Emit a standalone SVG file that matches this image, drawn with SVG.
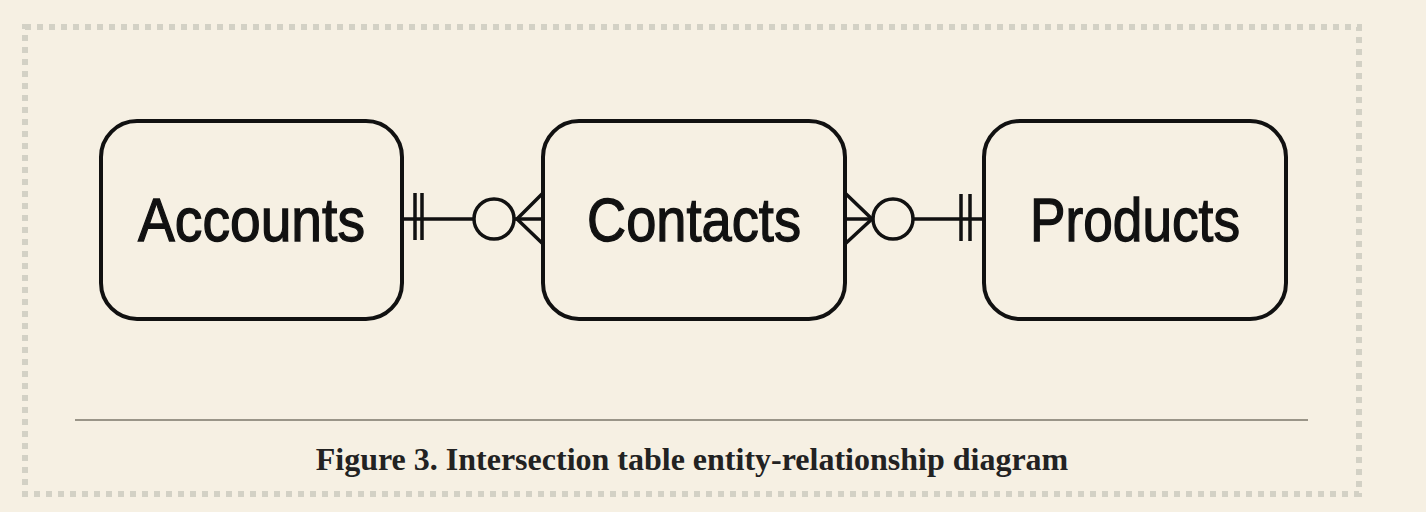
<svg xmlns="http://www.w3.org/2000/svg" width="1426" height="512" viewBox="0 0 1426 512">
<style>
.box{fill:none;stroke:#111;stroke-width:4}
.lbl{font-family:"Liberation Sans",Arial,sans-serif;font-size:61px;fill:#111;stroke:#111;stroke-width:1.3;text-anchor:middle}
.cn{fill:none;stroke:#111;stroke-width:3.5}
.cap{font-family:"Liberation Serif","Times New Roman",serif;font-weight:bold;font-size:32px;fill:#222;text-anchor:middle}
</style>
<rect x="0" y="0" width="1426" height="512" fill="#f6f0e3"/>
<rect x="25" y="27" width="1334" height="467" fill="none" stroke="#d3d1c5" stroke-width="6" stroke-dasharray="6 6"/>
<g id="accounts">
<rect class="box" x="101" y="121" width="301" height="198" rx="36"/>
<text class="lbl" x="251.5" y="241" textLength="227" lengthAdjust="spacingAndGlyphs">Accounts</text>
</g>
<g id="contacts">
<rect class="box" x="543" y="121" width="302" height="198" rx="36"/>
<text class="lbl" x="694" y="241" textLength="214" lengthAdjust="spacingAndGlyphs">Contacts</text>
</g>
<g id="products">
<rect class="box" x="984" y="121" width="302" height="198" rx="36"/>
<text class="lbl" x="1135" y="241" textLength="210" lengthAdjust="spacingAndGlyphs">Products</text>
</g>
<g id="connectors">
<line class="cn" x1="402" y1="219" x2="473" y2="219"/>
<line class="cn" x1="415" y1="193" x2="415" y2="240"/>
<line class="cn" x1="422" y1="193" x2="422" y2="240"/>
<circle class="cn" cx="494" cy="219" r="20"/>
<line class="cn" x1="514" y1="219" x2="543" y2="219"/>
<polyline class="cn" points="543,193 517,219 543,244"/>
<line class="cn" x1="845" y1="219" x2="873" y2="219"/>
<polyline class="cn" points="845,193 872,219 845,244"/>
<circle class="cn" cx="893" cy="219" r="20"/>
<line class="cn" x1="913" y1="219" x2="984" y2="219"/>
<line class="cn" x1="961" y1="194" x2="961" y2="241"/>
<line class="cn" x1="970" y1="194" x2="970" y2="241"/>
</g>
<line x1="75" y1="420" x2="1308" y2="420" stroke="#9a9588" stroke-width="2"/>
<text class="cap" x="692" y="470">Figure 3. Intersection table entity-relationship diagram</text>
</svg>
